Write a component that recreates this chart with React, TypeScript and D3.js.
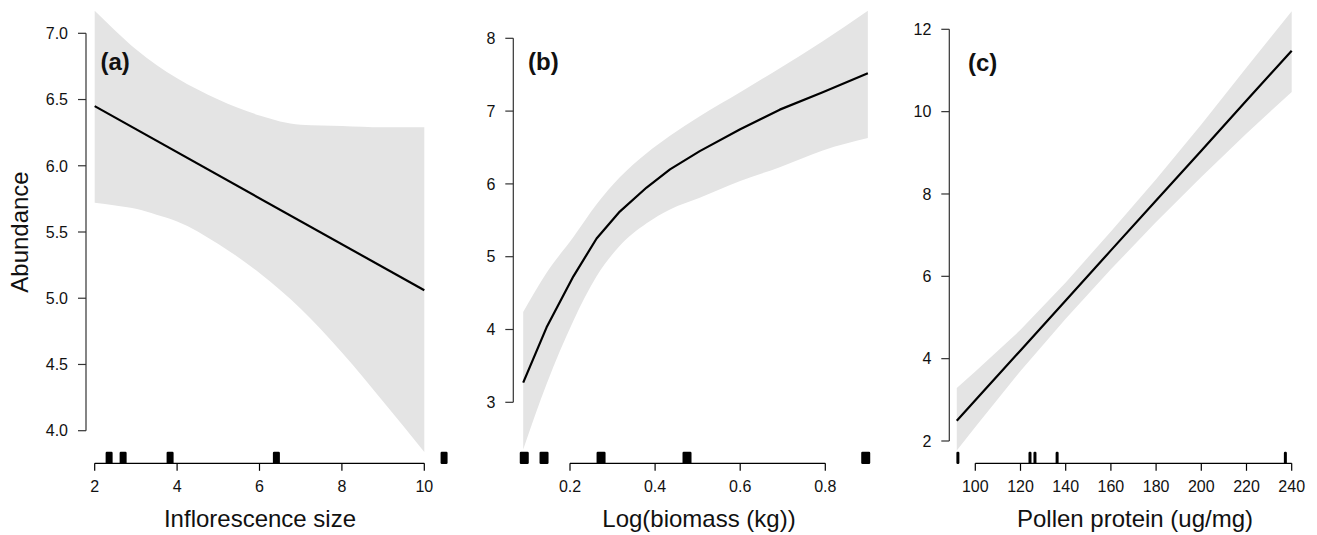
import React from "react";
import * as d3 from "d3";

// ---------- Panel (a) ----------
const aTicksX = [2, 4, 6, 8, 10];
const aTicksY = [4.0, 4.5, 5.0, 5.5, 6.0, 6.5, 7.0];
const aBandX = [2, 2.5, 3, 3.5, 4, 5, 6, 7, 8, 9, 10];
const aUpper = [7.17, 7.02, 6.88, 6.76, 6.66, 6.5, 6.38, 6.31, 6.3, 6.29, 6.29];
const aLower = [5.72, 5.7, 5.675, 5.63, 5.58, 5.41, 5.19, 4.92, 4.59, 4.22, 3.84];
const aFitX = [2, 10];
const aFit = [6.45, 5.06];
const aRug = [2.35, 2.69, 3.83, 6.41, 10.48];

// ---------- Panel (b) ----------
const bTicksX = [0.2, 0.4, 0.6, 0.8];
const bTicksY = [3, 4, 5, 6, 7, 8];
const bX = [0.09, 0.145, 0.208, 0.2625, 0.317, 0.38, 0.435, 0.505, 0.6, 0.693, 0.794, 0.9];
const bFit = [3.27, 4.03, 4.73, 5.25, 5.62, 5.95, 6.2, 6.45, 6.75, 7.02, 7.26, 7.52];
const bUpper = [4.24, 4.78, 5.27, 5.72, 6.09, 6.42, 6.66, 6.93, 7.26, 7.59, 7.96, 8.38];
const bLower = [2.35, 3.25, 4.12, 4.73, 5.15, 5.46, 5.65, 5.81, 6.04, 6.23, 6.46, 6.63];
const bRug = [0.0925, 0.139, 0.273, 0.475, 0.895];

// ---------- Panel (c) ----------
const cTicksX = [100, 120, 140, 160, 180, 200, 220, 240];
const cTicksY = [2, 4, 6, 8, 10, 12];
const cX = [91.8, 100, 120, 140, 160, 180, 200, 220, 240];
const cFit = [2.49, 2.99, 4.2, 5.41, 6.63, 7.84, 9.05, 10.27, 11.48];
const cUpper = [3.29, 3.69, 4.7, 5.85, 7.09, 8.36, 9.69, 11.07, 12.44];
const cLower = [1.77, 2.34, 3.7, 4.97, 6.17, 7.32, 8.41, 9.47, 10.48];
const cRug = [92.3, 124.2, 126.4, 136.2, 237.2];

const FONT = "'Liberation Sans', Arial, Helvetica, sans-serif";

type PanelProps = {
  label: string;
  xTitle: string;
  yTitle?: string;
  ticksX: number[];
  ticksY: number[];
  fmtX: (v: number) => string;
  fmtY: (v: number) => string;
  xDom: [number, number];
  xRange: [number, number];
  yDom: [number, number];
  yRange: [number, number];
  axisX: number;
  bandX: number[];
  upper: number[];
  lower: number[];
  fitX: number[];
  fit: number[];
  rug: number[];
  rugW: number;
  smooth: boolean;
  labelPos: [number, number];
  titleX: number;
};

function Panel(p: PanelProps) {
  const x = d3.scaleLinear().domain(p.xDom).range(p.xRange);
  const y = d3.scaleLinear().domain(p.yDom).range(p.yRange);
  const axisY = 463.3;
  const idx = p.bandX.map((_, i) => i);
  const area = d3
    .area<number>()
    .x((i) => x(p.bandX[i]))
    .y0((i) => y(p.lower[i]))
    .y1((i) => y(p.upper[i]))
    .curve(p.smooth ? d3.curveMonotoneX : d3.curveLinear);
  const line = d3
    .line<number>()
    .x((i) => x(p.fitX[i]))
    .y((i) => y(p.fit[i]));
  const yTop = y(p.ticksY[p.ticksY.length - 1]);
  const yBot = y(p.ticksY[0]);
  const xL = x(p.ticksX[0]);
  const xR = x(p.ticksX[p.ticksX.length - 1]);
  return (
    <g fontFamily={FONT}>
      <path d={area(idx) || ""} fill="#e4e4e4" stroke="none" />
      <path
        d={line(p.fitX.map((_, i) => i)) || ""}
        fill="none"
        stroke="#000"
        strokeWidth={2.2}
        strokeLinejoin="round"
      />
      <line x1={p.axisX} x2={p.axisX} y1={yTop} y2={yBot} stroke="#333" strokeWidth={1.2} />
      {p.ticksY.map((t) => (
        <g key={"y" + t}>
          <line x1={p.axisX - 8} x2={p.axisX} y1={y(t)} y2={y(t)} stroke="#333" strokeWidth={1.2} />
          <text
            x={p.axisX - 18}
            y={y(t)}
            dy="0.36em"
            textAnchor="end"
            fontSize={16}
            fill="#111"
          >
            {p.fmtY(t)}
          </text>
        </g>
      ))}
      <line x1={xL} x2={xR} y1={axisY} y2={axisY} stroke="#000" strokeWidth={1.2} />
      {p.ticksX.map((t) => (
        <g key={"x" + t}>
          <line x1={x(t)} x2={x(t)} y1={axisY} y2={axisY + 7.5} stroke="#000" strokeWidth={1.2} />
          <text x={x(t)} y={492} textAnchor="middle" fontSize={16} fill="#111">
            {p.fmtX(t)}
          </text>
        </g>
      ))}
      {p.rug.map((r, i) => (
        <rect
          key={"r" + i}
          x={x(r) - p.rugW / 2}
          y={451.7}
          width={p.rugW}
          height={12.3}
          rx={1.2}
          fill="#000"
        />
      ))}
      <text x={p.titleX} y={527} textAnchor="middle" fontSize={24} fill="#111">
        {p.xTitle}
      </text>
      {p.yTitle ? (
        <text
          transform={`translate(28,232) rotate(-90)`}
          textAnchor="middle"
          fontSize={24}
          fill="#111"
        >
          {p.yTitle}
        </text>
      ) : null}
      <text x={p.labelPos[0]} y={p.labelPos[1]} fontSize={24} fontWeight="bold" fill="#111">
        {p.label}
      </text>
    </g>
  );
}

export default function App() {
  return (
    <svg
      width={1317}
      height={535}
      style={{ position: "absolute", left: 0, top: 0, background: "#fff" }}
    >
      <rect x={0} y={0} width={1317} height={535} fill="#fff" />
      <Panel
        label="(a)"
        xTitle="Inflorescence size"
        yTitle="Abundance"
        ticksX={aTicksX}
        ticksY={aTicksY}
        fmtX={(v) => String(v)}
        fmtY={(v) => v.toFixed(1)}
        xDom={[2, 10]}
        xRange={[94.7, 424.3]}
        yDom={[4, 7]}
        yRange={[430.7, 33.3]}
        axisX={86}
        bandX={aBandX}
        upper={aUpper}
        lower={aLower}
        fitX={aFitX}
        fit={aFit}
        rug={aRug}
        rugW={7}
        smooth={true}
        labelPos={[100.5, 70]}
        titleX={260}
      />
      <Panel
        label="(b)"
        xTitle="Log(biomass (kg))"
        ticksX={bTicksX}
        ticksY={bTicksY}
        fmtX={(v) => v.toFixed(1)}
        fmtY={(v) => String(v)}
        xDom={[0.2, 0.8]}
        xRange={[570, 825.3]}
        yDom={[3, 8]}
        yRange={[402.3, 38.3]}
        axisX={513.3}
        bandX={bX}
        upper={bUpper}
        lower={bLower}
        fitX={bX}
        fit={bFit}
        rug={bRug}
        rugW={9}
        smooth={true}
        labelPos={[528, 70]}
        titleX={699}
      />
      <Panel
        label="(c)"
        xTitle="Pollen protein (ug/mg)"
        ticksX={cTicksX}
        ticksY={cTicksY}
        fmtX={(v) => String(v)}
        fmtY={(v) => String(v)}
        xDom={[100, 240]}
        xRange={[975.3, 1291.7]}
        yDom={[2, 12]}
        yRange={[441, 29.3]}
        axisX={949.3}
        bandX={cX}
        upper={cUpper}
        lower={cLower}
        fitX={cX}
        fit={cFit}
        rug={cRug}
        rugW={3}
        smooth={false}
        labelPos={[968, 71]}
        titleX={1135}
      />
    </svg>
  );
}
